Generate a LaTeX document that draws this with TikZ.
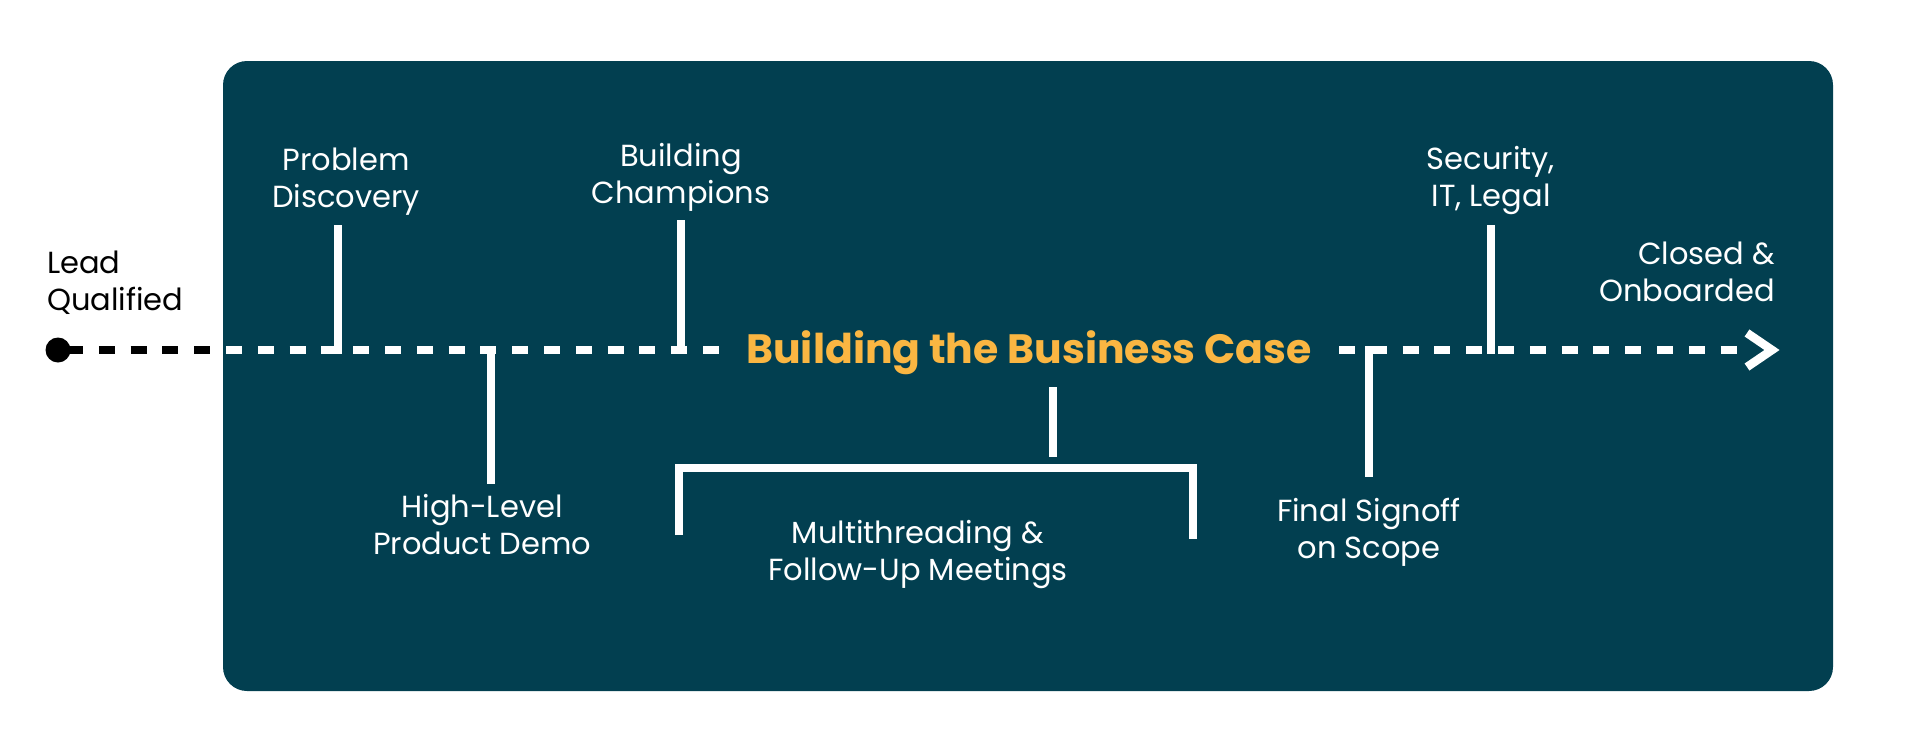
\documentclass[tikz,border=0pt]{standalone}
\usepackage{fontspec}
\setmainfont{Poppins}
\usetikzlibrary{calc}
\definecolor{boxteal}{HTML}{023F50}
\definecolor{titleorange}{HTML}{FAB642}
\tikzset{
  lbl/.style={text=white, align=center, inner sep=0pt, anchor=base,
    font=\fontsize{30.5}{37}\selectfont},
  tick/.style={draw=white, line width=8.5pt, line cap=butt},
  mainline/.style={line width=8.5pt, dash pattern=on 16pt off 15.8pt},
}
\begin{document}
\begin{tikzpicture}[x=1pt,y=-1pt]
\useasboundingbox (0,0) rectangle (1917,755);
% background box
\fill[boxteal, rounded corners=24pt] (223,61) rectangle (1833,691);

% line endpoints
\node[circle, fill=black, minimum size=25pt, inner sep=0pt] (dot) at (58,350) {};
\coordinate (lstart) at (67,350);
\coordinate (lend) at (1745,350);
\coordinate (tip) at (1772,350);

% black part (outside the box)
\begin{scope}
  \clip (0,0) rectangle (238,755);
  \draw[mainline, black] (lstart) -- (lend);
\end{scope}
\draw[line width=8.5pt, black] (dot.center) -- (82,350);
% white part inside the box, interrupted by the title
\begin{scope}
  \clip (223,61) rectangle (722,691) (1336,61) rectangle (1833,691);
  \draw[mainline, white] (lstart) -- (lend);
\end{scope}
% arrow head
\draw[white, line width=8.5pt, miter limit=10] ($(tip)+(-25,-17)$) -- (tip) -- ($(tip)+(-25,17)$);

% title
\node[text=titleorange, inner sep=0pt, anchor=base, font=\fontsize{41}{48}\selectfont\bfseries] (title) at (1029,363) {Building the Business Case};

% labels (anchor base = baseline of the last line)
\node[lbl, text=black, anchor=base west, align=left] (lead) at (47,310) {Lead\\Qualified};
\node[lbl] (pd) at (346,207) {Problem\\Discovery};
\node[lbl] (bc) at (681,203) {Building\\Champions};
\node[lbl] (hl) at (482,554) {High-Level\\Product Demo};
\node[lbl] (mt) at (918,580) {Multithreading \&\\Follow-Up Meetings};
\node[lbl] (fs) at (1369,558) {Final Signoff\\on Scope};
\node[lbl] (sec) at (1491,206) {Security,\\IT, Legal};
\node[lbl, anchor=base east, align=right] (closed) at (1775,301) {Closed \&\\Onboarded};

% ticks
\coordinate (pdA) at (338,225); \coordinate (pdB) at (338,354);
\coordinate (bcA) at (681,220); \coordinate (bcB) at (681,354);
\coordinate (hlA) at (491,346); \coordinate (hlB) at (491,484);
\coordinate (ttA) at (1053,387); \coordinate (ttB) at (1053,457);
\coordinate (fsA) at (1369,346); \coordinate (fsB) at (1369,477);
\coordinate (scA) at (1491,225); \coordinate (scB) at (1491,354);
\draw[tick] (pdA) -- (pdB);
\draw[tick] (bcA) -- (bcB);
\draw[tick] (hlA) -- (hlB);
\draw[tick] (ttA) -- (ttB);
\draw[tick] (fsA) -- (fsB);
\draw[tick] (scA) -- (scB);
% bracket
\coordinate (brL) at (679,535); \coordinate (brR) at (1193,539);
\draw[tick, line join=miter] (brL) -- (679,468) -- (1193,468) -- (brR);
\end{tikzpicture}
\end{document}
